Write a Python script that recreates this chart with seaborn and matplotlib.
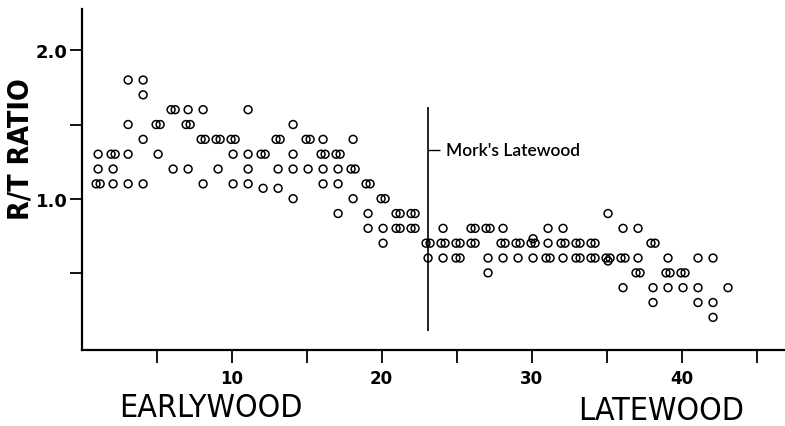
import numpy as np
import pandas as pd
import matplotlib
matplotlib.use('Agg')
import matplotlib.pyplot as plt
import seaborn as sns

# ray-to-tangential ratio, sample position across the ring
sample = ([1] * 4 + [2] * 4 + [3] * 4 + [4] * 4 + [5] * 3 + [6] * 3 + [7] * 4 + [8] * 4 +
          [9] * 3 + [10] * 4 + [11] * 4 + [12] * 3 + [13] * 4 + [14] * 4 + [15] * 3 +
          [16] * 5 + [17] * 5 + [18] * 4 + [19] * 4 + [20] * 4 + [21] * 4 + [22] * 4 +
          [23] * 3 + [24] * 4 + [25] * 4 + [26] * 4 + [27] * 4 + [28] * 4 + [29] * 3 +
          [30] * 4 + [31] * 4 + [32] * 4 + [33] * 4 + [34] * 4 + [35] * 4 + [36] * 4 +
          [37] * 4 + [38] * 4 + [39] * 4 + [40] * 3 + [41] * 3 + [42] * 3 + [43] * 1)
ratio = [1.3, 1.2, 1.1, 1.1,
         1.3, 1.3, 1.2, 1.1,
         1.8, 1.5, 1.3, 1.1,
         1.8, 1.7, 1.4, 1.1,
         1.5, 1.5, 1.3,
         1.6, 1.6, 1.2,
         1.6, 1.5, 1.5, 1.2,
         1.6, 1.4, 1.4, 1.1,
         1.4, 1.4, 1.2,
         1.4, 1.4, 1.3, 1.1,
         1.6, 1.3, 1.2, 1.1,
         1.3, 1.3, 1.07,
         1.4, 1.4, 1.2, 1.07,
         1.5, 1.3, 1.2, 1.0,
         1.4, 1.4, 1.2,
         1.4, 1.3, 1.3, 1.2, 1.1,
         1.3, 1.3, 1.2, 1.1, 0.9,
         1.4, 1.2, 1.2, 1.0,
         1.1, 1.1, 0.9, 0.8,
         1.0, 1.0, 0.8, 0.7,
         0.9, 0.9, 0.8, 0.8,
         0.9, 0.9, 0.8, 0.8,
         0.7, 0.7, 0.6,
         0.8, 0.7, 0.7, 0.6,
         0.7, 0.7, 0.6, 0.6,
         0.8, 0.8, 0.7, 0.7,
         0.8, 0.8, 0.6, 0.5,
         0.8, 0.7, 0.7, 0.6,
         0.7, 0.7, 0.6,
         0.73, 0.7, 0.7, 0.6,
         0.8, 0.7, 0.6, 0.6,
         0.8, 0.7, 0.7, 0.6,
         0.7, 0.7, 0.6, 0.6,
         0.7, 0.7, 0.6, 0.6,
         0.9, 0.6, 0.6, 0.58,
         0.8, 0.6, 0.6, 0.4,
         0.8, 0.6, 0.5, 0.5,
         0.7, 0.7, 0.4, 0.3,
         0.6, 0.5, 0.5, 0.4,
         0.5, 0.5, 0.4,
         0.6, 0.4, 0.3,
         0.6, 0.3, 0.2,
         0.4]

mork_pos = 23.1
mork_span = [0.11, 1.62]
x_ticks = [5, 10, 15, 20, 25, 30, 35, 40, 45]
x_labels = ['', '10', '', '20', '', '30', '', '40', '']
y_ticks = [0.5, 1.0, 1.5, 2.0]
y_labels = ['', '1.0', '', '2.0']

df = pd.DataFrame({'sample': sample, 'ratio': ratio})
# repeated readings sit side by side like in the original plot
k = df.groupby(['sample', 'ratio']).cumcount()
n = df.groupby(['sample', 'ratio'])['ratio'].transform('size')
df['xpos'] = df['sample'] + 0.1 + 0.27 * (k - (n - 1) / 2)

sns.set_style('ticks')
plt.rcParams['text.color'] = 'black'
plt.rcParams['xtick.color'] = 'black'
plt.rcParams['ytick.color'] = 'black'
plt.rcParams['xtick.labelcolor'] = 'black'
plt.rcParams['ytick.labelcolor'] = 'black'

fig = plt.figure(figsize=(7.85, 4.27), dpi=100)
ax = fig.add_axes([0.104, 0.178, 0.896, 0.799])

sns.scatterplot(data=df, x='xpos', y='ratio', ax=ax, marker='o', s=32,
                facecolors='none', edgecolors='black', linewidth=1.1, legend=False)

ax.vlines(mork_pos, mork_span[0], mork_span[1], color='black', linewidth=1.2)
ax.hlines(1.33, mork_pos, mork_pos + 0.8, color='black', linewidth=1.0)
ax.text(mork_pos + 1.2, 1.33, "Mork's Latewood", fontsize=12.5, family=['Lato', 'DejaVu Sans'],
        fontweight='semibold', va='center', ha='left', color='black')

ax.set_xlim(0, 46.9)
ax.set_ylim(-0.02, 2.28)
ax.set_xticks(x_ticks)
ax.set_xticklabels(x_labels, fontsize=12, fontweight='bold')
ax.set_yticks(y_ticks)
ax.set_yticklabels(y_labels, fontsize=13, fontweight='bold')
ax.tick_params(axis='both', direction='out', length=9, width=1.3, color='black',
               labelcolor='black')
ax.tick_params(axis='x', pad=5)
ax.tick_params(axis='y', pad=1)
ax.set_xlabel('')
ax.set_ylabel('')

for side in ['top', 'right']:
    ax.spines[side].set_visible(False)
for side in ['left', 'bottom']:
    ax.spines[side].set_linewidth(1.6)
    ax.spines[side].set_color('black')

fig.text(0.026, 0.65, 'R/T RATIO', rotation=90, fontsize=20.5, family='DejaVu Sans',
         fontstretch='condensed', fontweight='bold', ha='center', va='center')
fig.text(0.269, 0.043, 'EARLYWOOD', fontsize=23, family='DejaVu Sans',
         fontstretch='condensed', ha='center', va='center')
fig.text(0.842, 0.036, 'LATEWOOD', fontsize=23, family='DejaVu Sans',
         fontstretch='condensed', ha='center', va='center')

fig.savefig('out.png', dpi=100)
